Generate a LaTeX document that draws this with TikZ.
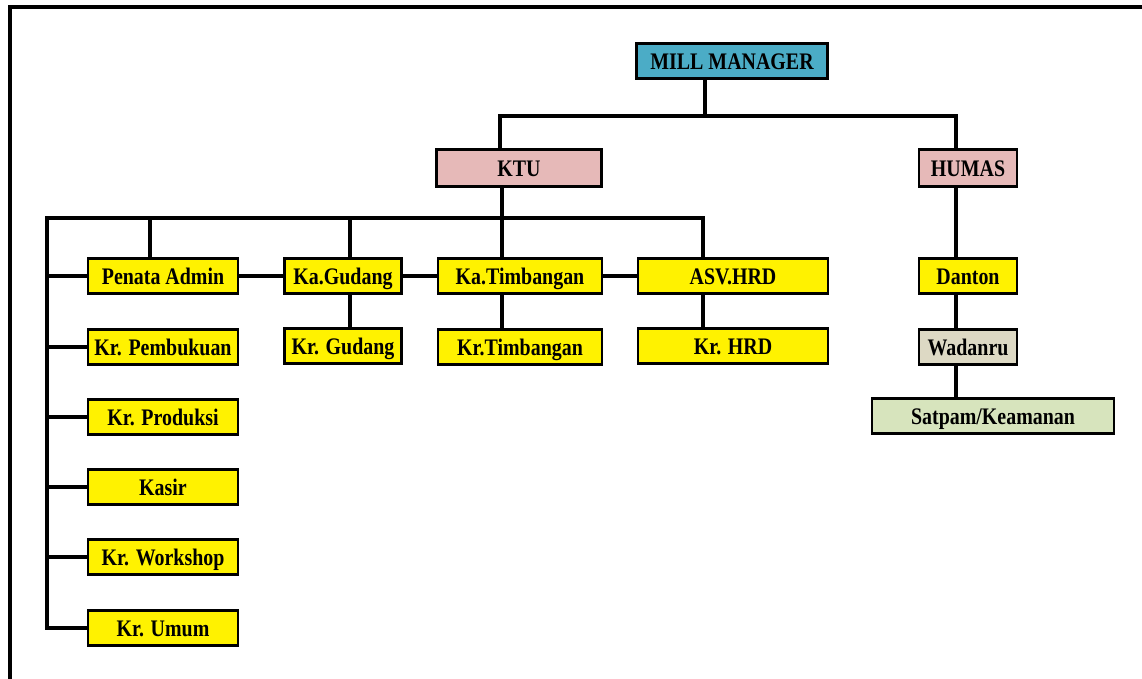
\documentclass[tikz,border=0pt]{standalone}
\usepackage{fontspec}
\setmainfont{Liberation Serif}[FakeStretch=0.84]
\usepackage{tikz}
\usepackage{xcolor}

\definecolor{mmblue}{RGB}{75,172,198}
\definecolor{ktupink}{RGB}{230,185,184}
\definecolor{wadbeige}{RGB}{221,217,196}
\definecolor{satgreen}{RGB}{215,228,189}

\begin{document}
\begin{tikzpicture}[x=0.02cm, y=-0.02cm,
    box/.style={draw, line width=1.2pt, inner sep=0pt, minimum height=0.7cm,
      text height=11pt, text depth=1.1pt,
      font=\fontsize{13.5}{15}\selectfont\bfseries},
    staff/.style={box, fill=yellow, minimum width=3cm},
    link/.style={line width=2.3pt}]
  \useasboundingbox (0,0) rectangle (1142,679);
  % frame
  \draw[line width=2pt] (10,679) -- (10,7) -- (1142,7);

  % top levels
  \node[box, fill=mmblue, minimum width=3.82cm] (mm) at (732,61) {MILL MANAGER};
  \node[box, fill=ktupink, minimum width=3.3cm, minimum height=0.74cm] (ktu) at (519,168) {KTU};
  \node[box, fill=ktupink, minimum width=1.96cm, minimum height=0.74cm] (humas) at (968,168) {HUMAS};

  % humas side
  \node[box, fill=yellow, minimum width=1.96cm] (danton) at (968,276) {Danton};
  \node[box, fill=wadbeige, minimum width=1.96cm] (wadanru) at (968,347) {Wadanru};
  \node[box, fill=satgreen, minimum width=4.84cm] (satpam) at (993,416) {Satpam/Keamanan};

  % ktu side
  \foreach \n/\y/\t in {pa/276/Penata Admin, kpb/347/Kr. Pembukuan, kpr/417/Kr. Produksi,
      ksr/487/Kasir, kws/557/Kr. Workshop, kum/628/Kr. Umum}
    \node[staff] (\n) at (163,\y) {\t};
  \node[staff, minimum width=2.34cm] (kag) at (343,276) {Ka.Gudang};
  \node[staff, minimum width=2.34cm] (krg) at (343,346) {Kr. Gudang};
  \node[staff, minimum width=3.28cm] (kat) at (520,276) {Ka.Timbangan};
  \node[staff, minimum width=3.28cm] (krt) at (520,347) {Kr.Timbangan};
  \node[staff, minimum width=3.8cm] (asv) at (733,276) {ASV.HRD};
  \node[staff, minimum width=3.8cm] (krh) at (733,346) {Kr. HRD};

  % bus points
  \coordinate (mmbus) at (705,116);
  \coordinate (b1) at (500,116);
  \coordinate (b2) at (956,116);
  \coordinate (c0) at (47,218);
  \coordinate (s1) at (150,218);
  \coordinate (s2) at (350,218);
  \coordinate (s3) at (502,218);
  \coordinate (s4) at (703,218);

  % connectors
  \draw[link] (mm.south -| mmbus) -- (mmbus);
  \draw[link] (ktu.north -| b1) |- (b2) -- (humas.north -| b2);
  \draw[link] (humas.south -| b2) -- (danton.north -| b2);
  \draw[link] (danton.south -| b2) -- (wadanru.north -| b2);
  \draw[link] (wadanru.south -| b2) -- (satpam.north -| b2);

  \draw[link] (ktu.south -| s3) -- (kat.north -| s3);
  \draw[link] (kum.west) -| (c0) -- (s4) -- (asv.north -| s4);
  \draw[link] (s1) -- (pa.north -| s1);
  \draw[link] (s2) -- (kag.north -| s2);
  \foreach \n in {pa,kpb,kpr,ksr,kws}
    \draw[link] (\n.west) -- (\n.west -| c0);
  \draw[link] (pa.east) -- (kag.west);
  \draw[link] (kag.east) -- (kat.west);
  \draw[link] (kat.east) -- (asv.west);
  \draw[link] (kag.south -| s2) -- (krg.north -| s2);
  \draw[link] (kat.south -| s3) -- (krt.north -| s3);
  \draw[link] (asv.south -| s4) -- (krh.north -| s4);
\end{tikzpicture}
\end{document}
